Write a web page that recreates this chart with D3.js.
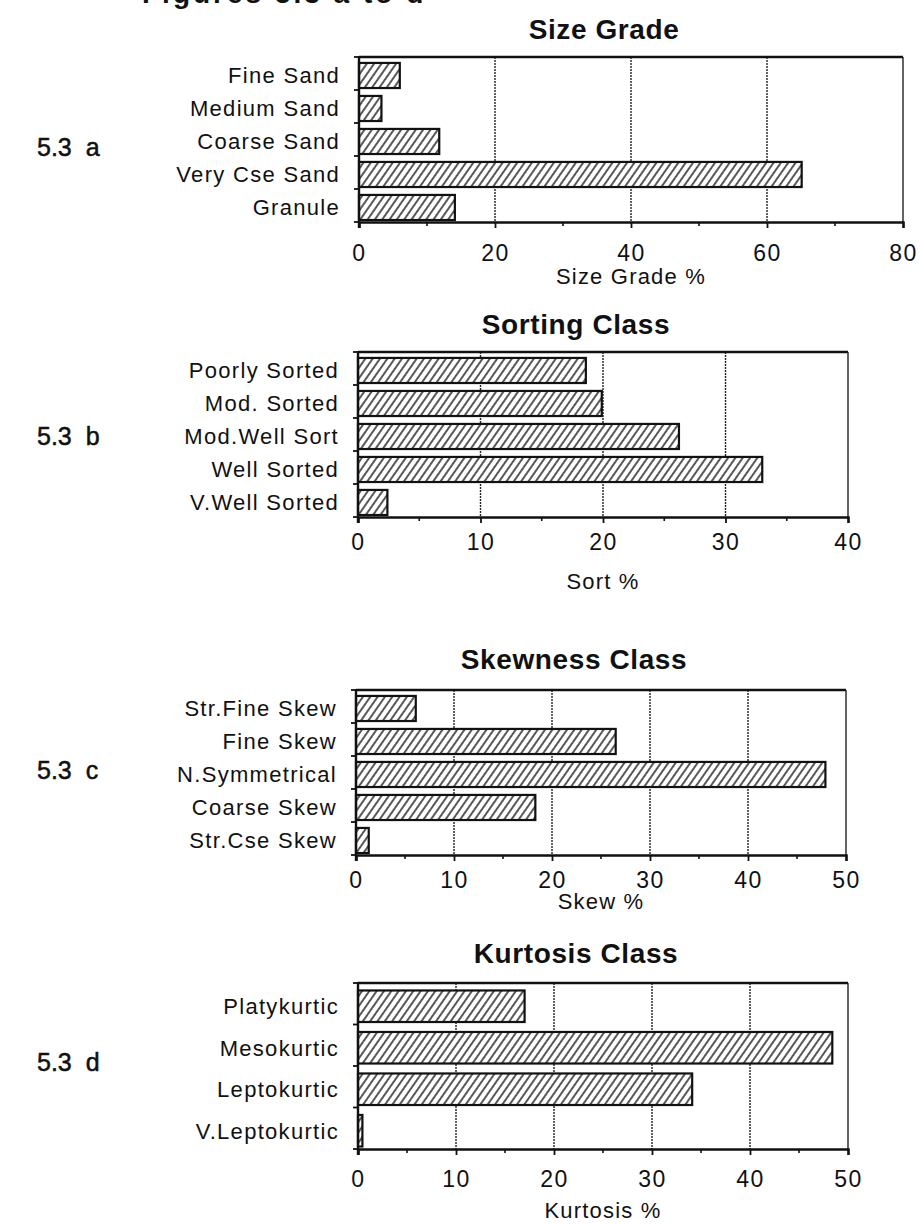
<html>
<head>
<meta charset="utf-8">
<style>
  body { margin: 0; background: #fff; }
  text { font-family: "Liberation Sans", Arial, Helvetica, sans-serif; fill: #111; }
</style>
</head>
<body>
<div id="chartContainer"></div>
<script src="https://cdnjs.cloudflare.com/ajax/libs/d3/7.8.5/d3.min.js"></script>
<script type="text/javascript">
  // Values
  var sizeCats = ["Fine Sand", "Medium Sand", "Coarse Sand", "Very Cse Sand", "Granule"];
  var sizeVals = [6.0, 3.3, 11.8, 65.1, 14.1];
  var sizeTicks = [0, 20, 40, 60, 80];

  var sortCats = ["Poorly Sorted", "Mod. Sorted", "Mod.Well Sort", "Well Sorted", "V.Well Sorted"];
  var sortVals = [18.6, 19.9, 26.2, 33.0, 2.4];
  var sortTicks = [0, 10, 20, 30, 40];

  var skewCats = ["Str.Fine Skew", "Fine Skew", "N.Symmetrical", "Coarse Skew", "Str.Cse Skew"];
  var skewVals = [6.1, 26.5, 47.9, 18.3, 1.3];
  var skewTicks = [0, 10, 20, 30, 40, 50];

  var kurtCats = ["Platykurtic", "Mesokurtic", "Leptokurtic", "V.Leptokurtic"];
  var kurtVals = [17.0, 48.4, 34.1, 0.45];
  var kurtTicks = [0, 10, 20, 30, 40, 50];

  var svg = d3.select("#chartContainer").append("svg")
    .attr("width", 920)
    .attr("height", 1225);

  // hatch pattern for the bars
  var pat = svg.append("defs").append("pattern")
    .attr("id", "hatch")
    .attr("patternUnits", "userSpaceOnUse")
    .attr("width", 6)
    .attr("height", 10)
    .attr("patternTransform", "rotate(35)");
  pat.append("rect").attr("width", 6).attr("height", 10).style("fill", "#fff");
  pat.append("line")
    .attr("x1", 1).attr("y1", 0).attr("x2", 1).attr("y2", 10)
    .style("stroke", "#111").style("stroke-width", 1.4);

  // top line of the page, cut off by the scan
  svg.append("text")
    .attr("x", 142)
    .attr("y", 3)
    .style("font-size", "28px")
    .style("font-weight", "bold")
    .style("letter-spacing", "3px")
    .text("Figures 5.3 a to d");

  // one panel = one horizontal bar chart
  function drawPanel(p) {
    var g = svg.append("g");

    var x = d3.scaleLinear()
      .domain([p.ticks[0], p.ticks[p.ticks.length - 1]])
      .range([p.left, p.right]);

    var y = d3.scaleBand()
      .domain(p.cats)
      .range([p.top, p.bottom]);
    var bw = y.bandwidth();

    // title
    g.append("text")
      .attr("x", (p.left + p.right) / 2 - 27)
      .attr("y", p.titleY)
      .attr("text-anchor", "middle")
      .style("font-size", "28px")
      .style("font-weight", "bold")
      .style("letter-spacing", "0.6px")
      .text(p.title);

    // panel label on the far left
    g.append("text")
      .attr("x", 37)
      .attr("y", p.labelY)
      .style("font-size", "25px")
      .style("stroke", "#111")
      .style("stroke-width", 0.5)
      .style("white-space", "pre")
      .text(p.label);

    // vertical grid lines
    g.selectAll(".grid")
      .data(p.ticks.slice(1, -1))
      .enter()
      .append("line")
        .attr("x1", function (d) { return x(d); })
        .attr("x2", function (d) { return x(d); })
        .attr("y1", p.top)
        .attr("y2", p.bottom)
        .style("stroke", "#222")
        .style("stroke-width", 1.4)
        .style("stroke-dasharray", "2,1");

    // bars
    g.selectAll(".bar")
      .data(p.cats)
      .enter()
      .append("rect")
        .attr("x", x(0))
        .attr("y", function (d) { return y(d) + bw * 0.18; })
        .attr("width", function (d, i) { return x(p.vals[i]) - x(0); })
        .attr("height", bw * 0.76)
        .style("fill", "url(#hatch)")
        .style("stroke", "#111")
        .style("stroke-width", 2.2);

    // frame: top, right
    g.append("line").attr("x1", p.left).attr("x2", p.right).attr("y1", p.top).attr("y2", p.top)
      .style("stroke", "#111").style("stroke-width", 2.4);
    g.append("line").attr("x1", p.right).attr("x2", p.right).attr("y1", p.top).attr("y2", p.bottom)
      .style("stroke", "#222").style("stroke-width", 1.4);

    // x axis with major and half ticks
    var minor = [];
    for (var i = 0; i < p.ticks.length - 1; i++) {
      minor.push((p.ticks[i] + p.ticks[i + 1]) / 2);
    }
    var xAxis = d3.axisBottom(x).tickValues(p.ticks).tickSize(6).tickPadding(9);
    var ax = g.append("g")
      .attr("transform", "translate(0," + p.bottom + ")")
      .call(xAxis);
    ax.select(".domain").style("stroke", "#111").style("stroke-width", 2.4);
    ax.selectAll(".tick line").style("stroke", "#111").style("stroke-width", 1.8);
    ax.selectAll(".tick text")
      .attr("y", p.tickY - p.bottom)
      .attr("dy", null)
      .style("font-size", "23px")
      .style("letter-spacing", "1.5px")
      .style("font-family", "\"Liberation Sans\", Arial, sans-serif")
      .style("fill", "#111");

    g.selectAll(".minor")
      .data(minor)
      .enter()
      .append("line")
        .attr("x1", function (d) { return x(d); })
        .attr("x2", function (d) { return x(d); })
        .attr("y1", p.bottom)
        .attr("y2", p.bottom + 4)
        .style("stroke", "#111")
        .style("stroke-width", 1.6);

    // y axis: ticks on the band boundaries, labels in the middle of the bars
    var bounds = p.cats.map(function (d) { return y(d); }).concat([p.bottom]);
    g.append("line").attr("x1", p.left).attr("x2", p.left).attr("y1", p.top - 1).attr("y2", p.bottom + 6)
      .style("stroke", "#111").style("stroke-width", 2.4);
    g.selectAll(".ytick")
      .data(bounds)
      .enter()
      .append("line")
        .attr("x1", p.left - 5)
        .attr("x2", p.left)
        .attr("y1", function (d) { return d; })
        .attr("y2", function (d) { return d; })
        .style("stroke", "#111")
        .style("stroke-width", 1.8);

    g.selectAll(".ylab")
      .data(p.cats)
      .enter()
      .append("text")
        .attr("x", p.left - 19)
        .attr("y", function (d) { return y(d) + bw * 0.56; })
        .attr("dy", "0.36em")
        .attr("text-anchor", "end")
        .style("font-size", "22px")
        .style("letter-spacing", "1.3px")
        .text(function (d) { return d; });

    // axis title
    g.append("text")
      .attr("x", (p.left + p.right) / 2)
      .attr("y", p.axisTitleY)
      .attr("text-anchor", "middle")
      .style("font-size", "22px")
      .style("letter-spacing", "1.2px")
      .text(p.axisTitle);
  }

  drawPanel({ title: "Size Grade", label: "5.3  a", axisTitle: "Size Grade %",
    cats: sizeCats, vals: sizeVals, ticks: sizeTicks,
    left: 359, right: 903, top: 57, bottom: 222,
    titleY: 39, labelY: 156, tickY: 261, axisTitleY: 284 });

  drawPanel({ title: "Sorting Class", label: "5.3  b", axisTitle: "Sort %",
    cats: sortCats, vals: sortVals, ticks: sortTicks,
    left: 358, right: 848, top: 352, bottom: 517,
    titleY: 334, labelY: 445, tickY: 550, axisTitleY: 589 });

  drawPanel({ title: "Skewness Class", label: "5.3  c", axisTitle: "Skew %",
    cats: skewCats, vals: skewVals, ticks: skewTicks,
    left: 356, right: 846, top: 690, bottom: 855,
    titleY: 669, labelY: 779, tickY: 888, axisTitleY: 909 });

  drawPanel({ title: "Kurtosis Class", label: "5.3  d", axisTitle: "Kurtosis %",
    cats: kurtCats, vals: kurtVals, ticks: kurtTicks,
    left: 358, right: 848, top: 983, bottom: 1149,
    titleY: 963, labelY: 1071, tickY: 1187, axisTitleY: 1218 });
</script>
</body>
</html>
